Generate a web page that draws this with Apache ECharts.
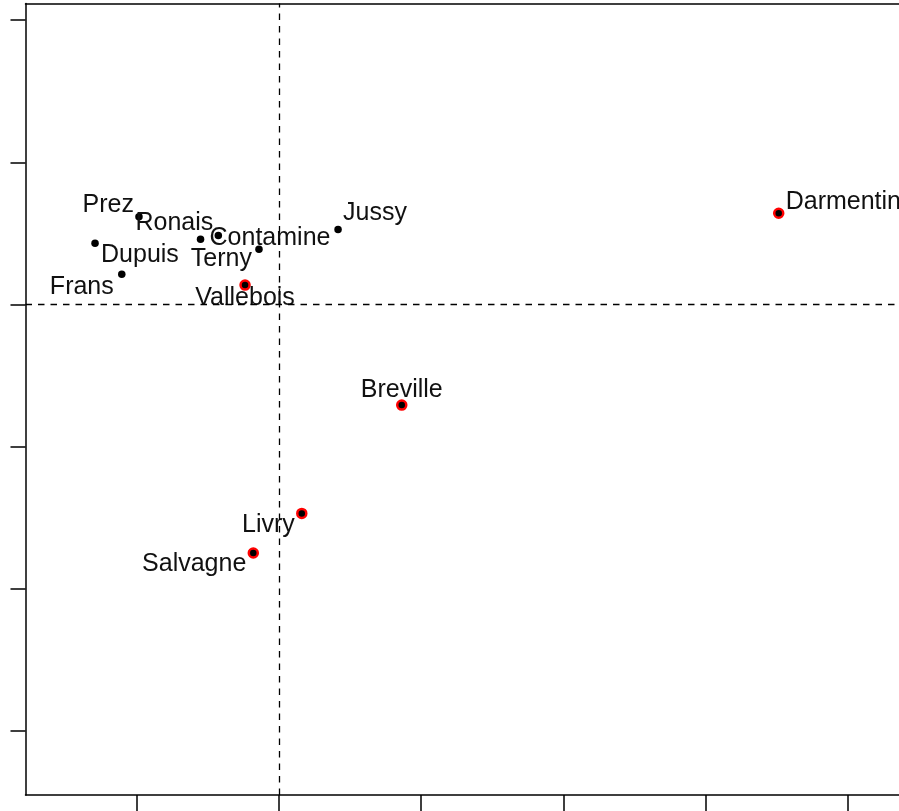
<!DOCTYPE html>
<html>
<head>
<meta charset="utf-8">
<script src="https://cdn.jsdelivr.net/npm/echarts@6/dist/echarts.min.js"></script>
<style>
  html, body { margin: 0; padding: 0; background: #fff; }
  #chart { width: 899px; height: 811px; }
</style>
</head>
<body>
<div id="chart"></div>
<script>
// Individuals on the first factorial plane (Dim 1 x Dim 2)
const names = ['Prez', 'Dupuis', 'Frans', 'Ronais', 'Contamine', 'Terny', 'Jussy',
               'Vallebois', 'Darmentin', 'Breville', 'Livry', 'Salvagne'];
const dim1 = [-0.985, -1.294, -1.106, -0.427, -0.552, -0.141, 0.415,
              -0.239, 3.514, 0.863, 0.160, -0.181];
const dim2 = [0.618, 0.431, 0.213, 0.486, 0.460, 0.388, 0.528,
              0.137, 0.642, -0.707, -1.469, -1.747];
// supplementary individuals are drawn with a red ring
const supplementary = [false, false, false, false, false, false, false,
                       true, true, true, true, true];

const xTicks = [-1, 0, 1, 2, 3, 4];
const yTicks = [-3, -2, -1, 0, 1, 2];

// label placement next to each point: [align, dx, dy] in pixels
const labelPlacement = {
  Prez: ['right', -5, -12],
  Dupuis: ['left', 6, 12],
  Frans: ['right', -8, 13],
  Ronais: ['right', -5, -12],
  Contamine: ['left', 9, -1],
  Terny: ['right', -7, 10],
  Jussy: ['left', 5, -16],
  Vallebois: ['center', 0, 13],
  Darmentin: ['left', 7, -11],
  Breville: ['center', 0, -15],
  Livry: ['right', -7, 12],
  Salvagne: ['right', -7, 11]
};

const FONT = 'Liberation Sans';
const INK = '#000';

function pointItems(wantSupp) {
  const items = [];
  names.forEach((n, i) => {
    if (supplementary[i] !== wantSupp) return;
    const p = labelPlacement[n];
    items.push({
      name: n,
      value: [dim1[i], dim2[i]],
      label: {
        show: true,
        formatter: n,
        position: 'inside',
        align: p[0],
        verticalAlign: 'middle',
        offset: [p[1], p[2]],
        color: '#111',
        fontFamily: FONT,
        fontSize: 25
      }
    });
  });
  return items;
}

const chart = echarts.init(document.getElementById('chart'), null, { renderer: 'canvas' });
chart.setOption({
  animation: false,
  backgroundColor: '#ffffff',
  grid: {
    left: 25.5, top: 3.5, right: 0, height: 791.5,
    show: false
  },
  xAxis: [
    {
      type: 'value',
      min: -1.783, max: 4.360,
      position: 'bottom',
      axisLine: { show: true, onZero: false, lineStyle: { color: INK, width: 1.5 } },
      axisTick: {
        show: true, inside: false, length: 18,
        customValues: xTicks,
        lineStyle: { color: INK, width: 1.5 }
      },
      axisLabel: { show: false, customValues: xTicks },
      splitLine: { show: false }
    },
    {
      // top frame line of the plotting region
      type: 'value',
      min: -1.783, max: 4.360,
      position: 'top',
      axisLine: { show: true, onZero: false, lineStyle: { color: INK, width: 1.5 } },
      axisTick: { show: false },
      axisLabel: { show: false },
      splitLine: { show: false }
    }
  ],
  yAxis: {
    type: 'value',
    min: -3.449, max: 2.117,
    position: 'left',
    axisLine: { show: true, onZero: false, lineStyle: { color: INK, width: 1.5 } },
    axisTick: {
      show: true, inside: false, length: 15,
      customValues: yTicks,
      lineStyle: { color: INK, width: 1.5 }
    },
    axisLabel: { show: false, customValues: yTicks },
    splitLine: { show: false }
  },
  series: [
    {
      type: 'scatter',
      symbol: 'circle',
      symbolSize: 7.5,
      itemStyle: { color: INK, opacity: 1 },
      data: pointItems(false),
      silent: true,
      markLine: {
        silent: true,
        symbol: 'none',
        label: { show: false },
        lineStyle: { color: INK, type: [6.5, 6], width: 1.3, opacity: 1 },
        data: [{ xAxis: 0 }, { yAxis: 0 }]
      }
    },
    {
      type: 'scatter',
      symbol: 'circle',
      symbolSize: 9,
      itemStyle: { color: INK, borderColor: '#ff0000', borderWidth: 2.5, opacity: 1 },
      data: pointItems(true),
      silent: true
    }
  ]
});
</script>
</body>
</html>
